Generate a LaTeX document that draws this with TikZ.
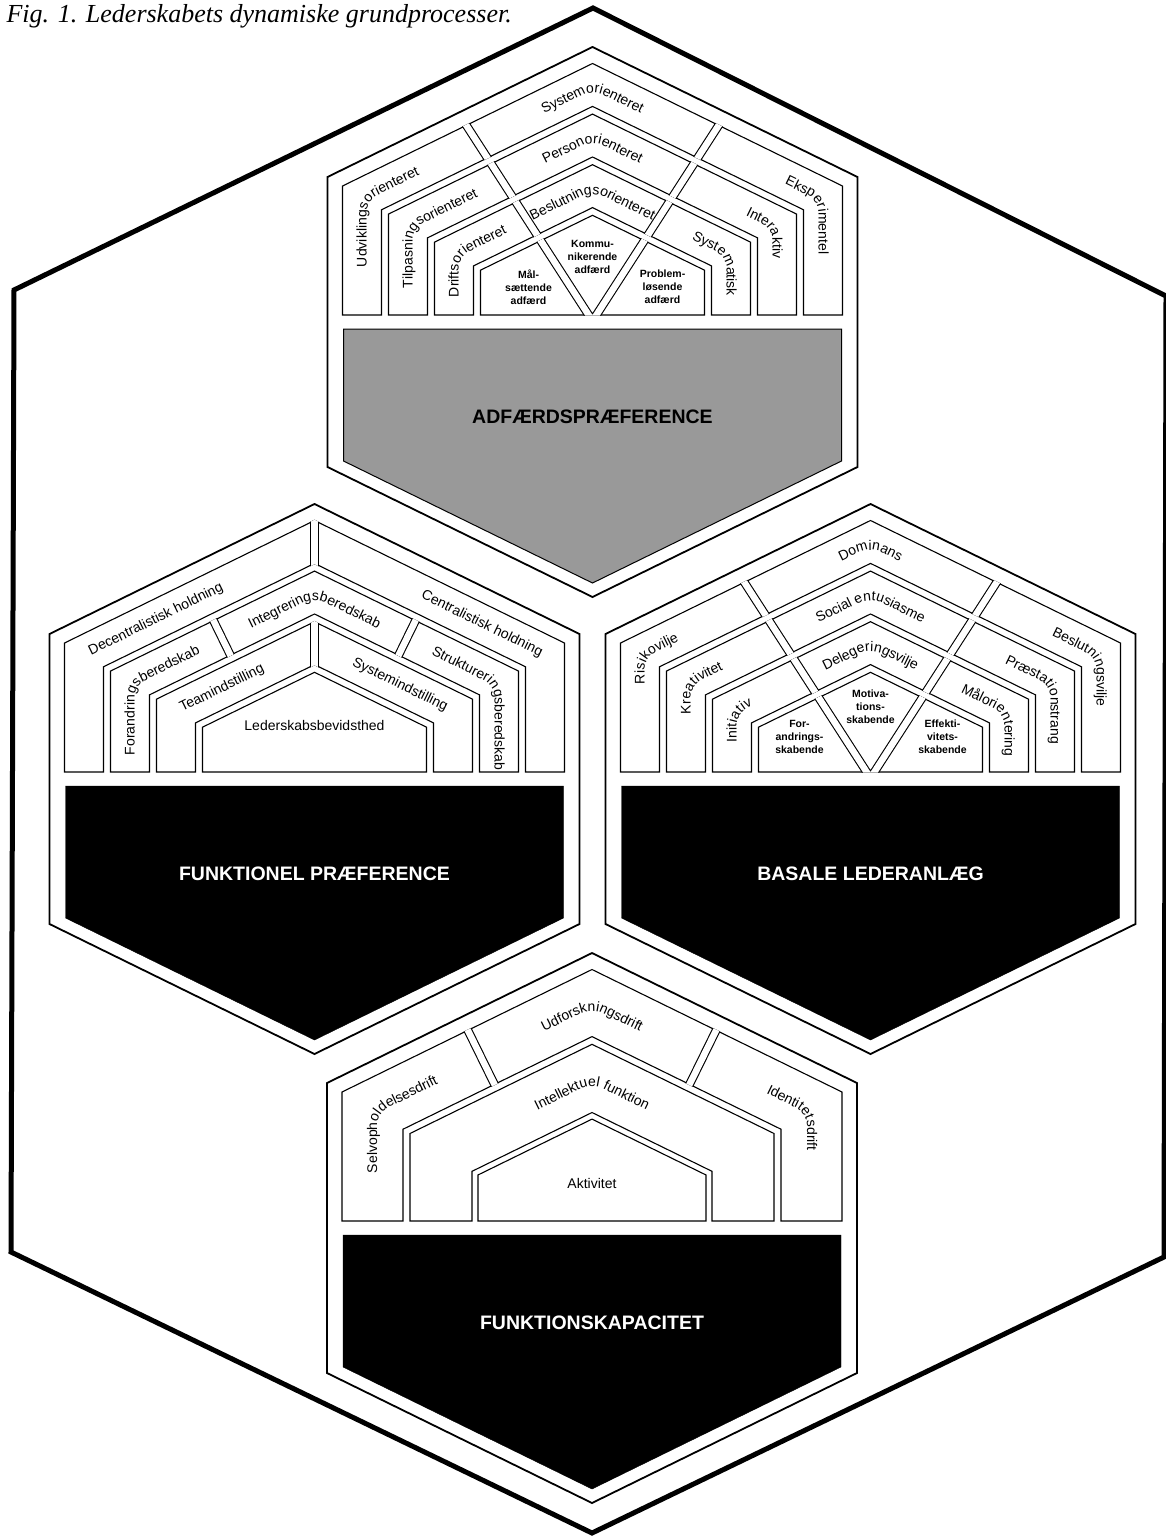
\documentclass[tikz,border=0pt]{standalone}
\usepackage{fontspec}
\setmainfont{Liberation Sans}
\newfontfamily\capfont{Liberation Serif}
\usepackage{tikz}
\usetikzlibrary{decorations.text}

\newcommand\ringfont{\fontsize{14}{16}\selectfont}
\newcommand\hexpath{(0,0) -- (265,130) -- (265,420) -- (0,550) -- (-265,420) -- (-265,130) -- cycle}
\newcommand\boxpath{(-249,282) -- (249,282) -- (249,414) -- (0,536) -- (-249,414) -- cycle}
\newcommand\bandpath[3]{%
  ({-(265-#1)},#3) -- ({-(265-#1)},{1.1*#1+0.49*(265-#1)}) -- (0,{1.1*#1})
  -- ({265-#1},{1.1*#1+0.49*(265-#1)}) -- ({265-#1},#3)
  -- ({265-#2},#3) -- ({265-#2},{1.1*#2+0.49*(265-#2)}) -- (0,{1.1*#2})
  -- ({-(265-#2)},{1.1*#2+0.49*(265-#2)}) -- ({-(265-#2)},#3) -- cycle}
\newcommand\pentpath[2]{%
  ({-(265-#1)},#2) -- ({-(265-#1)},{1.1*#1+0.49*(265-#1)}) -- (0,{1.1*#1})
  -- ({265-#1},{1.1*#1+0.49*(265-#1)}) -- ({265-#1},#2) -- cycle}
% baselines lie 4.5 inside the middle of a band
\newcommand\leftcurve[2]{%
  ({-(260.5-#1)},#2) -- ({-(260.5-#1)},{1.1*(#1+4.5)+0.49*(260.5-#1)}) -- (0,{1.1*(#1+4.5)})
  -- ({260.5-#1},{1.1*(#1+4.5)+0.49*(260.5-#1)})}
\newcommand\rightcurve[2]{%
  (#2,{1.1*(#1+4.5)+0.49*#2}) -- ({260.5-#1},{1.1*(#1+4.5)+0.49*(260.5-#1)}) -- ({260.5-#1},320)}
\newcommand\peakcurve[1]{%
  (-150,{1.1*(#1+4.5)+0.49*150}) -- (0,{1.1*(#1+4.5)}) -- (150,{1.1*(#1+4.5)+0.49*150})}
\newcommand\fourrings{%
  \draw[cell] \bandpath{15}{54}{268};
  \draw[cell] \bandpath{61}{100}{268};
  \draw[cell] \bandpath{107}{146}{268};
  \draw[cell] \pentpath{153}{268};}
\newcommand\vroads{%
  \begin{scope}
    \clip \bandpath{14.3}{54.7}{268.7} \bandpath{60.3}{100.7}{268.7}
      \bandpath{106.3}{146.7}{268.7} \pentpath{152.3}{268.7};
    \draw[road] (-196,-30) -- (0,274) -- (196,-30);
  \end{scope}}

\begin{document}
\begin{tikzpicture}[
 x=1pt, y=-1pt,
 outerhex/.style={draw, line width=5pt},
 hexline/.style={draw, line width=1.8pt, fill=white},
 cell/.style={draw, line width=1.1pt, fill=white},
 road/.style={line width=1.1pt, double=white, double distance=6.5pt},
 darkbox/.style={fill=black},
 greybox/.style={fill=black!40, draw=black, line width=1pt},
 biglabel/.style={font=\bfseries\fontsize{19.5}{22}\selectfont},
 smalllabel/.style={font=\bfseries\fontsize{10.5}{13}\selectfont, align=center},
 flatlabel/.style={font=\ringfont},
 leftroof/.style={flatlabel, rotate=26.1},
 rightroof/.style={flatlabel, rotate=-26.1},
 curvelabel/.style={rounded corners=12pt, decorate, decoration={text along path, text={|\ringfont|#1}}},
 peaklabel/.style={rounded corners=12pt, decorate, decoration={text along path, text={|\ringfont|#1}, text align=center}}
]
\useasboundingbox (0,0) rectangle (1165,1537);
\node[anchor=base west, font=\capfont\itshape\fontsize{26}{28}\selectfont] (cap) at (3,22) {Fig. 1. Lederskabets dynamiske grundprocesser.};
\draw[outerhex] (593,8) -- (1166,296) -- (1164,1257) -- (592,1533) -- (11,1252) -- (14,290) -- cycle;

% adfaerdspraeference
\begin{scope}[shift={(592.5,47)}]
\draw[hexline] \hexpath;
\draw[greybox] \boxpath;
\node[biglabel] (adf) at (0,370) {ADFÆRDSPRÆFERENCE};
\fourrings
\vroads
\path[curvelabel=Udviklingsorienteret] \leftcurve{34.5}{220};
\path[curvelabel=Tilpasningsorienteret] \leftcurve{80.5}{241};
\path[curvelabel=Driftsorienteret] \leftcurve{126.5}{250};
\path[peaklabel=Systemorienteret] \peakcurve{34.5};
\path[peaklabel=Personorienteret] \peakcurve{80.5};
\path[peaklabel=Beslutningsorienteret] \peakcurve{126.5};
\path[curvelabel=Eksperimentel] \rightcurve{34.5}{192};
\path[curvelabel=Interaktiv] \rightcurve{80.5}{153};
\path[curvelabel=Systematisk] \rightcurve{126.5}{99};
\node[smalllabel] (kom) at (0,210) {Kommu-\\nikerende\\adfærd};
\node[smalllabel] (maal) at (-64,240) {Mål-\\sættende\\adfærd};
\node[smalllabel] (prob) at (70,240) {Problem-\\løsende\\adfærd};
\end{scope}

% funktionel praeference
\begin{scope}[shift={(314.5,504)}]
\draw[hexline] \hexpath;
\draw[darkbox] \boxpath;
\node[biglabel, text=white] (fun) at (0,370) {FUNKTIONEL PRÆFERENCE};
\fourrings
\begin{scope}
  \clip \bandpath{14.3}{54.7}{268.7};
  \draw[road] (0,-20) -- (0,120);
\end{scope}
\begin{scope}
  \clip \bandpath{60.3}{100.7}{268.7};
  \draw[road] (-92.5,134) ++(-24.5,-50) -- ++(49,100);
  \draw[road] (92.5,134) ++(24.5,-50) -- ++(-49,100);
\end{scope}
\begin{scope}
  \clip \bandpath{106.3}{146.7}{268.7};
  \draw[road] (0,80) -- (0,220);
\end{scope}
\node[leftroof] (dec) at (-158.5,115.6) {Decentralistisk holdning};
\node[rightroof] (cen) at (167.5,120) {Centralistisk holdning};
\path[curvelabel=Forandringsberedskab] \leftcurve{80.5}{251};
\path[peaklabel=Integreringsberedskab] \peakcurve{80.5};
\path[curvelabel=Struktureringsberedskab] \rightcurve{80.5}{116.5};
\node[leftroof] (team) at (-92.5,184.5) {Teamindstilling};
\node[rightroof] (sysi) at (85.5,181) {Systemindstilling};
\node[flatlabel] (led) at (0,221) {Lederskabsbevidsthed};
\end{scope}

% basale lederanlaeg
\begin{scope}[shift={(870.5,504)}]
\draw[hexline] \hexpath;
\draw[darkbox] \boxpath;
\node[biglabel, text=white] (bas) at (0,370) {BASALE LEDERANLÆG};
\fourrings
\vroads
\path[curvelabel=Risikovilje] \leftcurve{34.5}{180};
\path[curvelabel=Kreativitet] \leftcurve{80.5}{210};
\path[curvelabel=Initiativ] \leftcurve{126.5}{238};
\path[peaklabel=Dominans] \peakcurve{34.5};
\path[peaklabel={Social entusiasme}] \peakcurve{80.5};
\path[peaklabel=Delegeringsvilje] \peakcurve{126.5};
\path[curvelabel=Beslutningsvilje] \rightcurve{34.5}{181};
\path[curvelabel=Præstationstrang] \rightcurve{80.5}{134};
\path[curvelabel=Målorientering] \rightcurve{126.5}{90};
\node[smalllabel] (for) at (-71,233) {For-\\andrings-\\skabende};
\node[smalllabel] (mot) at (0,203) {Motiva-\\tions-\\skabende};
\node[smalllabel] (eff) at (72,233) {Effekti-\\vitets-\\skabende};
\end{scope}

% funktionskapacitet
\begin{scope}[shift={(592,953)}]
\draw[hexline] \hexpath;
\draw[darkbox] \boxpath;
\node[biglabel, text=white] (kap) at (0,370) {FUNKTIONSKAPACITET};
\draw[cell] \bandpath{15}{76}{268};
\draw[cell] \bandpath{83}{145}{268};
\draw[cell] \pentpath{151}{268};
\begin{scope}
  \clip \bandpath{14.3}{76.7}{268.7};
  \draw[road] (-111,104) ++(-30,-61) -- ++(60,122);
  \draw[road] (111,104) ++(30,-61) -- ++(-60,122);
\end{scope}
\path[curvelabel=Selvopholdelsesdrift] \leftcurve{45.5}{220};
\path[peaklabel=Udforskningsdrift] \peakcurve{45.5};
\path[curvelabel=Identitetsdrift] \rightcurve{45.5}{174};
\path[peaklabel={Intellektuel funktion}] \peakcurve{114};
\node[flatlabel] (akt) at (0,230) {Aktivitet};
\end{scope}
\end{tikzpicture}
\end{document}
